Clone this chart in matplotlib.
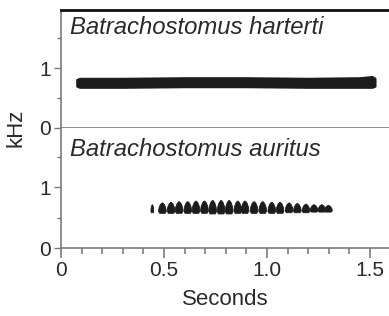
import matplotlib
matplotlib.use("Agg")
import matplotlib.pyplot as plt
from matplotlib.patches import Polygon
from matplotlib.ticker import MultipleLocator

plt.rcParams['font.family'] = ['Liberation Sans', 'DejaVu Sans']

# --- data (seconds, kHz) ---
species = ["Batrachostomus harterti", "Batrachostomus auritus"]

# harterti: one long even whistle
harterti_t = [0.076, 0.09, 0.3, 0.6, 0.9, 1.2, 1.45, 1.51, 1.524]
harterti_lo = [0.70, 0.68, 0.68, 0.69, 0.69, 0.68, 0.68, 0.68, 0.70]
harterti_hi = [0.81, 0.83, 0.83, 0.84, 0.84, 0.83, 0.84, 0.86, 0.83]

# auritus: a train of short pulses
pulse_t = [0.443, 0.492, 0.534, 0.573, 0.615, 0.655, 0.696, 0.736, 0.777,
           0.816, 0.858, 0.893, 0.937, 0.979, 1.023, 1.063, 1.107, 1.147,
           1.189, 1.228, 1.266, 1.298]
pulse_top = [0.71, 0.74, 0.75, 0.76, 0.76, 0.77, 0.77, 0.78, 0.78, 0.78, 0.77,
             0.77, 0.76, 0.76, 0.75, 0.75, 0.74, 0.73, 0.72, 0.71, 0.71, 0.70]
pulse_bot = [0.58, 0.57, 0.57, 0.57, 0.57, 0.57, 0.57, 0.56, 0.56, 0.56, 0.57,
             0.57, 0.57, 0.57, 0.57, 0.57, 0.58, 0.58, 0.58, 0.59, 0.59, 0.59]
pulse_w = [0.007] + [0.019] * 21

xticks = [0, 0.5, 1.0, 1.5]
xticklabels = ["0", "0.5", "1.0", "1.5"]

ink = "#1c1c1c"
grey = "#7a7a7a"
txt = "#2a2a2a"

fig = plt.figure(figsize=(3.89, 3.16), dpi=100)
ax1 = fig.add_axes([0.157, 0.595, 0.843, 0.373])
ax2 = fig.add_axes([0.157, 0.215, 0.843, 0.380])

for ax, name in zip([ax1, ax2], species):
    ax.set_xlim(0, 1.592)
    ax.set_ylim(0, 1.97)
    ax.set_yticks([0, 1])
    ax.yaxis.set_minor_locator(MultipleLocator(0.5))
    ax.tick_params(axis='y', which='major', length=5, width=1, color=grey,
                   labelsize=15, labelcolor=txt, pad=2)
    ax.tick_params(axis='y', which='minor', length=3, width=1, color=grey)
    ax.spines['right'].set_visible(False)
    ax.spines['left'].set_color(grey)
    ax.spines['bottom'].set_color(grey)
    ax.spines['left'].set_linewidth(1.2)
    ax.spines['bottom'].set_linewidth(1.2)
    ax.text(0.027, 0.80 if ax is ax1 else 0.77, name, transform=ax.transAxes,
            style='italic', fontsize=17.2, color=txt, va='baseline')

# top panel
ax1.spines['top'].set_color("#111111")
ax1.spines['top'].set_linewidth(2)
ax1.tick_params(axis='x', which='both', bottom=False, labelbottom=False)
ax1.fill_between(harterti_t, harterti_lo, harterti_hi, color=ink, lw=1.5,
                 edgecolor=ink, joinstyle='round')

# bottom panel
ax2.spines['top'].set_visible(False)
ax2.set_xticks(xticks)
ax2.set_xticklabels(xticklabels)
ax2.xaxis.set_minor_locator(MultipleLocator(0.1))
ax2.tick_params(axis='x', which='major', length=7, width=1.2, color=grey,
                labelsize=15, labelcolor=txt, pad=2)
ax2.tick_params(axis='x', which='minor', length=4.5, width=1.2, color=grey)

# "A"-shaped pulse outline, relative (0..1) units
shape_x = [-1.0, -0.85, -0.5, -0.1, 0.1, 0.5, 0.85, 1.0, 0.7, -0.7]
shape_y = [0.2, 0.55, 0.85, 1.0, 1.0, 0.85, 0.55, 0.2, 0.0, 0.0]
for t, top, bot, w in zip(pulse_t, pulse_top, pulse_bot, pulse_w):
    h = top - bot
    pts = [(t + sx * w, bot + sy * h) for sx, sy in zip(shape_x, shape_y)]
    ax2.add_patch(Polygon(pts, closed=True, facecolor=ink, edgecolor=ink,
                          lw=0.6, joinstyle='round'))

ax2.set_xlabel("Seconds", fontsize=16, color=txt, labelpad=7)
fig.text(0.04, 0.595, "kHz", rotation=90, fontsize=16, color=txt,
         ha='center', va='center')

fig.savefig("out.png", dpi=100)
